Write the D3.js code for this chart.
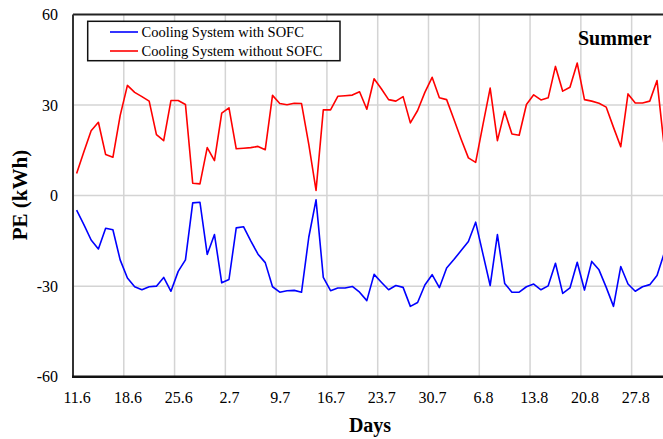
<!DOCTYPE html>
<html>
<head>
<meta charset="utf-8">
<script src="https://cdn.jsdelivr.net/npm/d3@7"></script>
<style>
  html, body { margin: 0; padding: 0; background: #fff; }
  svg { display: block; }
  text { font-family: "Liberation Serif", "Times New Roman", serif; fill: #000; }
</style>
</head>
<body>
<svg id="chart" width="663" height="439"></svg>
<script>
// Daily PE (kWh) from 11 June onwards, one value per day
const withSOFC = [
  -4.8, -9.6, -14.7, -17.7, -10.8, -11.3, -21.3, -27.3, -30.2, -31.2,
  -30.2, -30.0, -27.1, -31.7, -25.1, -21.3, -2.4, -2.2, -19.5, -12.9,
  -28.9, -27.8, -10.7, -10.3, -15.0, -19.4, -22.2, -30.2, -32.0, -31.5,
  -31.4, -32.0, -13.8, -1.4, -27.1, -31.5, -30.6, -30.6, -30.1, -32.0,
  -34.8, -26.1, -28.7, -31.2, -29.8, -30.4, -36.7, -35.4, -29.6, -26.2,
  -30.5, -24.0, -21.2, -18.2, -15.2, -8.8, -19.3, -29.8, -12.9, -29.1,
  -32.0, -32.0, -30.2, -29.3, -31.2, -29.9, -22.4, -32.4, -30.6, -22.1,
  -31.3, -21.8, -24.6, -30.4, -36.7, -23.5, -29.3, -31.7, -30.2, -29.5,
  -26.5, -19.0
];
const withoutSOFC = [
  7.3, 14.5, 21.5, 24.3, 13.6, 12.7, 26.5, 36.5, 34.2, 32.8,
  31.3, 20.2, 18.2, 31.5, 31.5, 30.2, 4.1, 3.9, 15.9, 11.6,
  27.3, 29.1, 15.5, 15.7, 15.9, 16.3, 15.2, 33.2, 30.5, 30.1,
  30.6, 30.5, 17.0, 1.7, 28.4, 28.4, 32.9, 33.1, 33.3, 34.4,
  28.6, 38.7, 35.4, 31.8, 31.3, 32.8, 24.1, 28.2, 34.2, 39.2,
  32.4, 31.8, 25.3, 18.7, 12.5, 11.0, 23.4, 35.6, 18.2, 27.9,
  20.4, 20.0, 30.2, 33.4, 31.7, 32.4, 42.8, 34.6, 35.9, 43.9,
  31.8, 31.3, 30.6, 29.3, 22.6, 16.2, 33.7, 30.7, 30.7, 31.3,
  38.1, 16.0
];
const seriesNames = ["Cooling System with SOFC", "Cooling System without SOFC"];
const seriesColors = ["#0000ff", "#ff0000"];
const dayTickLabels = ["11.6", "18.6", "25.6", "2.7", "9.7", "16.7", "23.7", "30.7", "6.8", "13.8", "20.8", "27.8"];
const dayTickStep = 7;
const yTicks = [-60, -30, 0, 30, 60];
const seasonLabel = "Summer";

const svg = d3.select("#chart");
const plotLeft = 73, plotTop = 14.5, plotBottom = 376.7;
const dayPx = 7.255;

const x = d3.scaleLinear()
  .domain([-0.5, 81.5])
  .range([plotLeft, plotLeft + 82 * dayPx]);
const y = d3.scaleLinear().domain([-60, 60]).range([plotBottom, plotTop]);
const plotRight = x.range()[1];

// gridlines
const grid = svg.append("g");
grid.selectAll("line.h")
  .data(yTicks.filter(v => v !== -60 && v !== 60))
  .join("line")
  .attr("x1", plotLeft).attr("x2", plotRight)
  .attr("y1", d => y(d)).attr("y2", d => y(d))
  .attr("stroke", "#d4d4d4").attr("stroke-width", 1.5);
const tickDays = dayTickLabels.map((_, i) => i * dayTickStep);
grid.selectAll("line.v")
  .data(tickDays.slice(1))
  .join("line")
  .attr("x1", d => x(d - 0.5)).attr("x2", d => x(d - 0.5))
  .attr("y1", plotTop).attr("y2", plotBottom)
  .attr("stroke", "#d4d4d4").attr("stroke-width", 1.5);

// frame
svg.append("line").attr("x1", plotLeft).attr("x2", plotRight)
  .attr("y1", plotTop).attr("y2", plotTop)
  .attr("stroke", "#222").attr("stroke-width", 2);
svg.append("line").attr("x1", plotLeft).attr("x2", plotLeft)
  .attr("y1", plotTop).attr("y2", plotBottom)
  .attr("stroke", "#333").attr("stroke-width", 2);
svg.append("line").attr("x1", plotLeft - 1).attr("x2", plotRight)
  .attr("y1", plotBottom).attr("y2", plotBottom)
  .attr("stroke", "#111").attr("stroke-width", 2.6);

// y axis labels (plain hyphen for negatives)
const yAxis = d3.axisLeft(y).tickValues(yTicks)
  .tickFormat(d => String(d)).tickSize(0).tickPadding(0);
const gy = svg.append("g").attr("transform", `translate(${plotLeft - 15},0)`).call(yAxis);
gy.select(".domain").remove();
gy.selectAll("text")
  .style("font-family", "'Liberation Serif', 'Times New Roman', serif")
  .style("font-size", "16px").attr("fill", "#000").attr("dy", "0.33em");

// x axis labels
const xAxis = d3.axisBottom(x).tickValues(tickDays)
  .tickFormat((d, i) => dayTickLabels[i]).tickSize(0).tickPadding(0);
const gx = svg.append("g").attr("transform", `translate(0,${plotBottom})`).call(xAxis);
gx.select(".domain").remove();
gx.selectAll("text")
  .style("font-family", "'Liberation Serif', 'Times New Roman', serif")
  .style("font-size", "16px").attr("fill", "#000")
  .attr("y", 26).attr("dy", 0);

// series lines
const line = d3.line().x((d, i) => x(i)).y(d => y(d));
[withSOFC, withoutSOFC].forEach((vals, k) => {
  svg.append("path").datum(vals)
    .attr("d", line)
    .attr("fill", "none")
    .attr("stroke", seriesColors[k])
    .attr("stroke-width", 1.6)
    .attr("stroke-linejoin", "round");
});

// axis titles
svg.append("text")
  .attr("transform", `translate(27,195) rotate(-90)`)
  .attr("text-anchor", "middle")
  .style("font-size", "21px").style("font-weight", "bold")
  .text("PE (kWh)");
svg.append("text")
  .attr("x", 370).attr("y", 431.5)
  .attr("text-anchor", "middle")
  .style("font-size", "20px").style("font-weight", "bold")
  .text("Days");

// season label
svg.append("text")
  .attr("x", 578).attr("y", 45)
  .style("font-size", "20px").style("font-weight", "bold")
  .text(seasonLabel);

// legend
const lg = svg.append("g");
lg.append("rect")
  .attr("x", 87.7).attr("y", 21.3).attr("width", 252.3).attr("height", 39.4)
  .attr("fill", "#fff").attr("stroke", "#111").attr("stroke-width", 1.5);
seriesNames.forEach((name, k) => {
  const cy = 32 + k * 19;
  lg.append("line").attr("x1", 110).attr("x2", 138)
    .attr("y1", cy).attr("y2", cy)
    .attr("stroke", seriesColors[k]).attr("stroke-width", 1.6);
  lg.append("text").attr("x", 141.5).attr("y", cy + 5)
    .style("font-size", "14.5px").text(name);
});
</script>
</body>
</html>
